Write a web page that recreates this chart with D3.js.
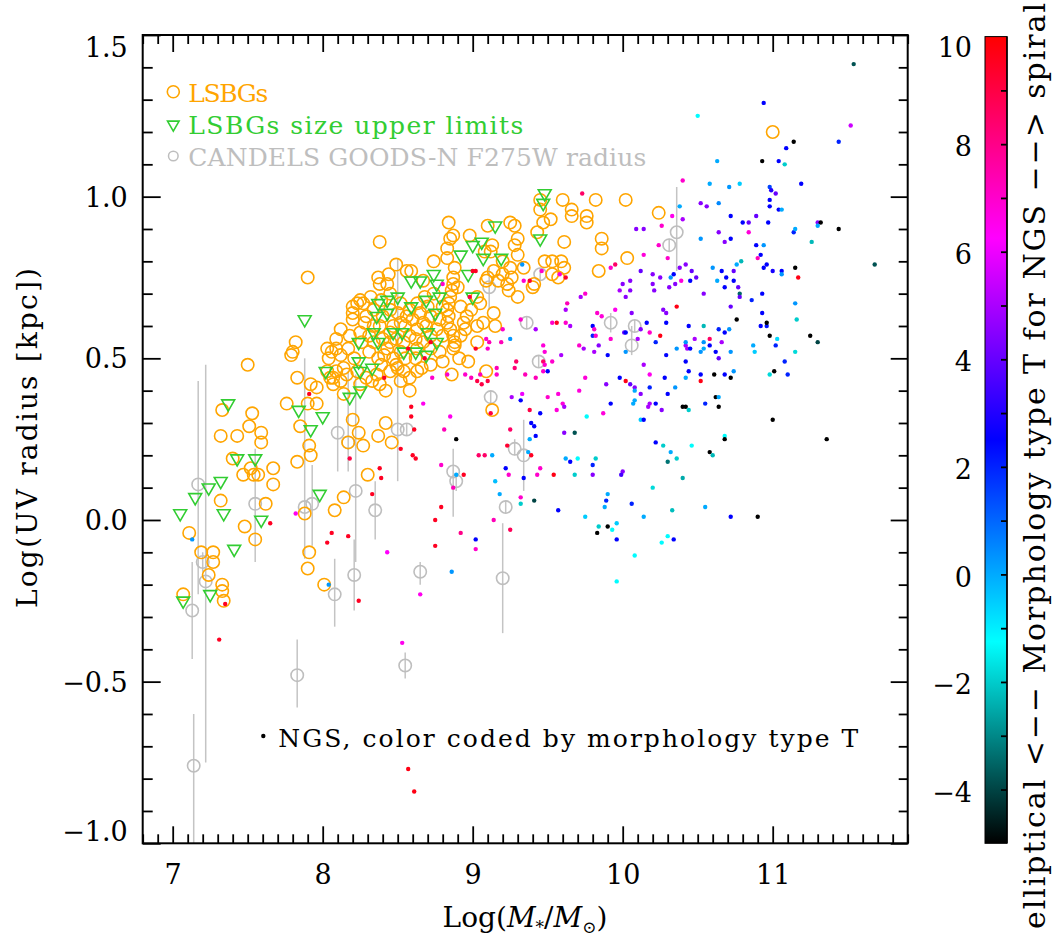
<!DOCTYPE html>
<html>
<head>
<meta charset="utf-8">
<script src="https://cdn.jsdelivr.net/npm/d3@7"></script>
<style>
  body { margin: 0; background: #fff; }
  svg { display: block; }
  text { font-family: "DejaVu Serif", serif; }
</style>
</head>
<body>
<svg id="chart" width="1053" height="937"></svg>
<script>
// ---- data: log stellar mass vs log UV radius ----
// LSBGs with measured sizes [logM, logR]
const lsbg = [
  [9.45,0.99],[9.45,0.96],[9.60,0.99],[9.66,0.96],[9.82,0.99],[10.02,0.99],[8.84,0.92],[9.25,0.92],[9.10,0.91],[9.47,0.92],
  [9.52,0.93],[9.66,0.94],[9.76,0.94],[9.76,0.92],[10.24,0.95],[11.00,1.20],[9.28,0.91],[9.30,0.87],[9.28,0.85],[9.30,0.82],
  [9.20,0.80],[9.25,0.78],[9.34,0.78],[9.26,0.75],[9.23,0.73],[9.30,0.69],[9.41,0.73],[9.40,0.72],[9.43,0.89],[9.61,0.86],
  [9.86,0.87],[9.86,0.84],[10.03,0.81],[9.84,0.77],[9.48,0.80],[9.53,0.80],[9.59,0.80],[9.61,0.78],[9.53,0.76],[9.57,0.75],
  [9.08,0.83],[9.13,0.85],[8.98,0.88],[8.87,0.88],[8.85,0.87],[8.83,0.84],[8.74,0.80],[8.38,0.86],[7.90,0.75],[8.49,0.79],
  [8.56,0.77],[8.59,0.77],[8.37,0.75],[8.44,0.76],[8.38,0.73],[8.43,0.73],[8.25,0.68],[8.20,0.66],[8.12,0.59],[8.20,0.62],
  [8.09,0.56],[8.03,0.53],[8.06,0.52],[8.12,0.51],[8.04,0.50],[7.82,0.55],[7.80,0.52],[7.79,0.51],[7.50,0.48],[7.76,0.36],
  [7.33,0.34],[7.32,0.26],[7.43,0.26],[7.53,0.33],[7.51,0.29],[7.59,0.27],[7.59,0.24],[7.40,0.19],[7.67,0.16],[7.83,0.18],
  [7.91,0.23],[7.92,0.20],[7.85,0.29],[7.90,0.36],[7.96,0.36],[7.96,0.41],[8.07,0.44],[8.12,0.43],[8.14,0.39],[8.20,0.31],
  [8.24,0.27],[8.17,0.24],[8.27,0.23],[8.37,0.26],[8.42,0.30],[8.46,0.24],[8.38,0.42],[8.52,0.43],[8.58,0.40],[8.25,0.42],
  [8.97,0.49],[9.09,0.46],[9.13,0.34],[8.86,0.45],[8.88,0.54],[8.88,0.55],[9.03,0.55],[9.07,0.61],[9.15,0.60],[9.14,0.64],
  [9.09,0.74],[8.83,0.81],[8.88,0.78],[8.87,0.75],[8.87,0.73],[8.86,0.71],[8.85,0.69],[8.84,0.67],[8.83,0.65],[8.84,0.63],
  [8.83,0.61],[8.85,0.59],[8.87,0.57],[8.87,0.53],[9.12,0.83],[9.14,0.77],[9.10,0.75],[9.20,0.76],[9.17,0.74],[9.24,0.71],
  [9.03,0.69],[9.05,0.67],[8.99,0.65],[8.96,0.63],[8.94,0.61],[8.95,0.59],[8.92,0.57],[8.76,0.59],[8.72,0.57],[8.67,0.55],
  [8.72,0.53],[8.63,0.53],[8.62,0.50],[8.68,0.69],[8.63,0.67],[8.58,0.65],[8.56,0.63],[8.52,0.61],[8.47,0.60],[8.45,0.58],
  [8.40,0.56],[8.67,0.74],[8.32,0.69],[8.23,0.67],[8.27,0.67],[8.20,0.64],[8.29,0.63],[8.34,0.60],[8.28,0.61],[8.25,0.58],
  [8.18,0.57],[8.17,0.53],[8.09,0.53],[8.34,0.55],[8.37,0.50],[8.39,0.48],[8.36,0.45],[8.45,0.46],[8.49,0.48],[8.54,0.46],
  [8.58,0.44],[8.63,0.46],[8.43,0.53],[8.45,0.55],[8.49,0.56],[8.54,0.55],[8.52,0.52],[8.47,0.50],[8.29,0.44],[8.23,0.46],
  [8.16,0.45],[8.07,0.42],[7.92,0.42],[7.83,0.44],[8.09,0.46],[8.03,0.46],[8.05,0.44],[9.03,0.60],[8.72,0.63],[8.67,0.61],
  [8.63,0.59],[8.58,0.57],[8.52,0.67],[8.45,0.65],[8.40,0.63],
  [8.34,0.65],[8.39,0.68],[8.45,0.70],[8.50,0.64],[8.55,0.60],[8.60,0.62],[8.65,0.64],[8.70,0.66],[8.74,0.70],[8.78,0.62],
  [8.80,0.57],[8.78,0.52],[8.72,0.48],[8.66,0.47],[8.55,0.50],[8.41,0.51],[8.31,0.52],[8.26,0.55],[8.31,0.57],[8.38,0.60],
  [8.62,0.56],[8.69,0.60],[8.80,0.66],[8.90,0.72],[8.92,0.66],[8.91,0.50],[8.80,0.49],[8.50,0.47],[8.33,0.43],[8.42,0.40],
  [8.21,0.50],[8.14,0.47],
  [7.47,0.14],[7.52,0.16],[7.54,0.14],[7.57,0.14],[7.67,0.11],[8.30,0.14],[7.62,0.05],[7.32,0.06],[7.48,-0.02],[7.55,-0.06],
  [7.11,-0.04],[7.19,-0.10],[7.27,-0.10],[7.27,-0.13],[7.24,-0.17],[7.33,-0.20],[7.33,-0.22],[7.34,-0.25],[7.07,-0.23],[7.88,0.02],
  [7.91,-0.10],[7.90,-0.15],[8.01,-0.20],[8.08,0.03],[8.14,0.07]
];

// LSBGs with size upper limits [logM, logR]
const lsbgLimits = [
  [9.48,1.01],[9.47,0.98],[9.45,0.87],[9.19,0.81],[9.15,0.91],[9.00,0.85],[9.06,0.86],[9.07,0.81],[8.92,0.82],[8.74,0.76],
  [8.76,0.73],[8.59,0.74],[8.65,0.74],[8.97,0.76],[9.00,0.69],[8.78,0.69],[8.75,0.64],[8.69,0.68],[8.50,0.69],[8.43,0.68],
  [8.37,0.67],[8.43,0.64],[8.36,0.63],[8.59,0.66],[7.88,0.62],[8.34,0.58],[8.37,0.55],[8.24,0.55],[8.47,0.58],[8.53,0.58],
  [8.70,0.58],[8.76,0.55],[8.54,0.52],[8.62,0.52],[8.69,0.51],[8.24,0.49],[8.25,0.46],[8.33,0.47],[8.02,0.46],[8.18,0.38],
  [8.25,0.40],[7.84,0.34],[7.92,0.28],[8.00,0.32],[7.37,0.36],[7.43,0.19],[7.55,0.19],[7.05,0.02],[7.15,0.07],[7.24,0.10],
  [7.32,0.12],[7.34,0.02],[7.59,0.00],[7.41,-0.09],[7.07,-0.25],[7.25,-0.23],[7.98,0.08]
];

// CANDELS GOODS-N F275W sizes [logM, logR, lower, upper]
const candels = [
  [7.17,0.11,-0.23,0.43],[7.20,-0.13,-0.16,-0.10],[7.22,-0.19,-0.75,0.48],[7.13,-0.28,-0.43,-0.13],[7.14,-0.76,-1.10,-0.60],
  [7.55,0.05,-0.13,0.22],[7.88,0.04,-0.12,0.50],[7.93,0.05,-0.08,0.17],[7.83,-0.48,-0.58,-0.37],[8.08,-0.23,-0.33,-0.12],
  [8.21,-0.17,-0.28,-0.06],[8.22,0.09,-0.13,0.45],[8.35,0.03,-0.06,0.12],[8.55,-0.45,-0.49,-0.41],[8.65,-0.16,-0.20,-0.13],
  [8.87,0.15,0.01,0.22],[8.89,0.12,0.09,0.14],[9.22,0.04,0.02,0.06],[9.20,-0.18,-0.35,-0.01],[9.28,0.22,0.20,0.25],
  [9.34,0.20,0.09,0.31],[8.50,0.28,0.12,0.81],[8.56,0.28,0.26,0.30],[8.10,0.27,0.15,0.38],[8.17,0.24,0.15,0.46],
  [9.12,0.38,0.36,0.40],[9.11,0.72,0.65,0.78],[9.36,0.61,0.59,0.63],[9.44,0.49,0.47,0.51],[9.45,0.76,0.74,0.78],
  [10.36,0.89,0.77,1.03],[10.31,0.85,0.83,0.87],[9.92,0.61,0.58,0.64],[10.08,0.60,0.58,0.62],[10.06,0.54,0.51,0.60]
];

// NGS galaxies [logM, logR, morphology type T]
const ngs = [
  [11.54,1.41,-3.8],[10.94,1.29,2.5],[10.50,1.25,-1.2],[11.52,1.22,5.5],[11.14,1.17,-5],[11.44,1.17,2],[11.09,1.15,2.5],[10.93,1.11,-5],
  [11.04,1.11,2.5],[10.63,1.11,0],[11.08,1.10,-2],[11.19,1.04,2.5],[10.58,1.04,0],[10.71,1.03,0.3],[10.78,1.04,-0.5],[10.40,1.05,7],
  [10.98,1.03,1.5],[10.99,1.02,3],[11.02,1.01,4],[10.98,0.99,2.5],[10.98,0.97,2.5],[11.04,0.96,2.5],[11.06,0.96,0],[10.52,0.98,4.5],
  [10.56,0.97,4.5],[10.64,0.98,0.5],[10.38,0.97,0],[10.40,0.93,5],[10.33,0.94,6.5],[10.72,0.94,2.5],[10.80,0.92,2.5],[10.84,0.92,4],
  [10.89,0.94,4],[10.97,0.92,2.5],[11.30,0.92,4.5],[11.32,0.92,-5],[11.44,0.90,-5],[11.30,0.91,0],[11.14,0.89,2],[11.15,0.90,0],
  [11.26,0.86,-2.3],[11.68,0.79,-3.8],[10.09,0.90,4.5],[10.14,0.90,4.5],[10.26,0.91,7],[10.84,0.89,6.8],[10.64,0.89,4.5],[10.52,0.87,0.3],
  [10.68,0.86,4.5],[10.72,0.87,2.5],[10.24,0.85,7],[10.30,0.81,7],[10.14,0.82,6.8],[10.89,0.85,2.5],[10.94,0.85,0.3],[10.92,0.82,2.5],
  [10.90,0.81,7.3],[10.79,0.80,-2.3],[10.76,0.79,0],[10.96,0.79,2.5],[10.94,0.78,2.5],[11.06,0.77,2.5],[11.06,0.76,0.3],[11.00,0.77,2.8],
  [11.15,0.78,-5],[11.17,0.75,9.7],[10.60,0.78,0.3],[10.66,0.77,2.5],[10.69,0.75,2.5],[10.74,0.74,2.5],[10.74,0.77,4],[10.63,0.74,0],
  [10.38,0.78,4.5],[10.42,0.79,4.5],[10.46,0.77,4],[10.49,0.75,4],[10.45,0.74,2.5],[10.34,0.76,2.5],[10.32,0.75,0.3],[10.39,0.74,6.8],
  [10.35,0.73,4.5],[10.31,0.72,4.5],[10.12,0.77,4],[10.20,0.76,4.5],[10.25,0.75,4.5],[10.05,0.74,4.5],[10.00,0.73,4.5],[10.20,0.73,4.5],
  [10.21,0.71,4.5],[10.05,0.71,4.5],[10.02,0.69,4.5],[9.98,0.71,5],[9.92,0.78,7],[9.95,0.79,8.5],[10.77,0.72,4],[10.78,0.70,-3.5],
  [10.78,0.69,4],[10.68,0.72,2.5],[10.54,0.70,4.5],[10.86,0.68,2],[10.93,0.70,2.5],[11.15,0.67,0.3],[10.72,0.66,4],[10.36,0.66,9.7],
  [10.27,0.65,4.5],[10.29,0.64,4.5],[10.06,0.64,4.5],[9.75,0.70,7],[9.72,0.69,5],[9.63,0.67,7.3],[9.62,0.65,5],[9.95,0.65,6.5],
  [9.83,0.64,7],[9.86,0.63,6.8],[10.76,0.62,-5],[10.93,0.64,2.5],[11.16,0.62,-2],[9.53,0.61,7],[9.56,0.61,9.5],[9.62,0.61,7],
  [9.65,0.60,5],[9.32,0.62,7],[9.38,0.74,9.3],[9.34,0.74,7],[9.62,0.75,9.3],[9.58,0.76,6.8],[9.46,0.77,7],[9.33,0.79,0.3],
  [9.73,1.01,8.5],[10.54,0.60,-2.3],[10.44,0.60,2.5],[10.16,0.61,2.5],[10.64,0.59,2],[10.71,0.59,0.3],[9.80,0.60,2.5],[10.92,0.60,2.5],
  [10.96,0.60,2.2],[10.96,0.61,-5],[10.29,0.61,2.5],[9.81,0.59,7],[10.12,0.59,4.5],
  [9.20,0.59,7],[9.19,0.55,7.3],[9.25,0.56,0.3],[9.42,0.59,5],[9.47,0.54,6.8],[9.48,0.52,6.8],[9.47,0.49,8.5],[9.48,0.48,7],
  [9.47,0.46,7],[9.50,0.46,2.5],[9.53,0.49,7],[9.59,0.51,5],[9.29,0.49,8.5],[9.28,0.47,8.3],[9.35,0.45,7.3],[9.42,0.44,7.3],
  [9.71,0.54,7],[9.74,0.53,5],[9.84,0.54,4.5],[9.81,0.52,5],[9.90,0.51,2.5],[9.92,0.56,7],[9.80,0.57,2],[9.82,0.57,7],
  [10.01,0.58,4],[10.02,0.58,2.5],[10.10,0.56,5],[10.02,0.52,0.3],[10.18,0.58,7],[10.25,0.57,9.7],[10.22,0.55,2],[10.36,0.53,0.3],
  [10.42,0.54,5],[10.43,0.53,5],[10.45,0.53,2.5],[10.48,0.56,5],[10.42,0.55,0.3],[10.54,0.55,0.3],[10.54,0.53,0],[10.52,0.52,0.3],
  [10.58,0.56,8.5],[10.58,0.54,2.5],[10.66,0.55,5],[10.62,0.52,2.5],[10.64,0.50,4],[10.72,0.52,0.3],[10.68,0.58,2.5],
  [10.29,0.51,2.5],[10.42,0.49,2.5],[10.44,0.46,2.5],[10.52,0.45,2.5],[10.52,0.43,9.7],[10.42,0.44,0],[10.61,0.45,-5],[10.68,0.45,2.5],
  [10.72,0.44,-5],[10.74,0.46,0.3],[10.28,0.44,2.5],[10.18,0.45,6.5],[10.14,0.48,5],[9.98,0.44,2.5],[10.02,0.43,9.7],[10.05,0.42,4],
  [10.08,0.41,4.5],[10.18,0.41,2],[10.35,0.41,0.3],[10.30,0.39,2.5],[9.89,0.42,4.5],[9.75,0.44,6.8],[9.71,0.40,6.8],[9.57,0.39,6.8],
  [9.50,0.38,7],[9.60,0.36,6.8],[9.56,0.34,6.8],[9.61,0.35,5],[9.26,0.38,5],[9.33,0.39,6],[9.32,0.37,2.5],[9.38,0.34,9],
  [9.45,0.33,2.5],[10.08,0.40,0],[10.12,0.39,4.5],[10.08,0.37,0],[10.07,0.36,0],[10.17,0.35,5],[10.18,0.36,5],[10.22,0.36,2.5],
  [10.26,0.34,4.5],[9.92,0.36,2.5],[9.87,0.33,6.8],[9.76,0.32,-1.3],[10.12,0.31,-0.5],[10.14,0.31,2.5],[10.40,0.35,-5],[10.42,0.35,-5],
  [10.44,0.34,-2],[10.55,0.36,2],[10.62,0.38,-5],[10.64,0.38,0],[10.64,0.35,-5],
  [10.87,0.54,0],[10.88,0.52,-0.5],[10.98,0.57,-5],[11.03,0.56,-0.7],[11.02,0.54,2],[11.25,0.57,-5],[11.30,0.55,-4],[11.15,0.52,-1.8],
  [11.08,0.49,2],[11.01,0.46,-5],[10.98,0.45,-1.8],[11.10,0.45,2],[11.00,0.31,-5],[11.36,0.25,-5],[10.68,0.26,-1.3],[10.68,0.25,-5],
  [10.58,0.21,-5],[10.60,0.20,-2.3],[10.46,0.23,-1.3],[10.27,0.23,-2],[10.32,0.21,0],[10.36,0.19,-2],[10.30,0.18,-3.3],[10.40,0.13,-2.5],
  [10.20,0.10,-1.8],[10.22,0.24,2.5],[9.68,0.27,-3.8],[9.61,0.27,4.5],[9.62,0.19,0],[9.65,0.18,2.5],[9.70,0.19,-1.2],[9.68,0.14,-2],
  [9.82,0.19,-2],[9.80,0.17,2],[9.80,0.14,4.5],[10.00,0.15,4.5],[9.99,0.14,3.5],
  [9.39,0.30,2.5],[9.41,0.29,2.5],[9.38,0.25,0],[9.42,0.26,2.5],[9.25,0.28,8.5],[9.23,0.23,9.3],[9.37,0.21,0],[9.39,0.20,9.5],
  [9.22,0.16,2.5],[9.24,0.14,7],[9.45,0.16,7],[9.43,0.14,7],[9.34,0.13,2.5],[9.54,0.14,9.7],[9.18,0.08,0],[9.32,0.07,7],
  [9.32,0.05,-2],[9.41,0.06,-4],[9.57,0.03,2.5],[9.90,0.08,0],[9.89,0.06,2],[9.88,0.04,0],[9.75,0.01,-0.5],[10.06,0.05,2],
  [10.14,0.01,0],[10.33,0.03,-2.2],[10.55,0.04,0],[10.72,0.01,2.5],[10.90,0.01,-5],[9.84,-0.02,-2],[9.83,-0.04,-5],[9.90,-0.02,-5],
  [9.93,-0.03,-1.3],[9.96,-0.01,-0.5],[9.96,-0.06,2.5],[10.30,-0.05,-1.2],[10.26,-0.07,-1.2],[10.34,-0.06,2.5],[10.08,-0.11,-1.2],[9.96,-0.19,-1.2],
  [9.25,-0.03,8.7],
  [9.00,0.77,9.5],[9.02,0.77,9.5],[8.80,0.73,7],[8.98,0.69,9],[9.09,0.56,7],[9.11,0.55,7.3],[9.10,0.53,7],[9.02,0.53,9.5],
  [8.57,0.53,9.5],[8.72,0.55,9.5],[8.68,0.50,9.3],[9.16,0.47,7.3],[9.16,0.45,7],[8.95,0.45,7],[8.99,0.44,7.3],[9.05,0.45,7.3],
  [9.03,0.43,9],[9.06,0.42,9],[9.10,0.43,9],[8.83,0.45,7],[8.73,0.44,7],[8.41,0.44,9.5],[7.91,0.39,9.5],[8.67,0.36,6.5],
  [8.59,0.35,9.5],[8.59,0.32,9.5],[8.61,0.28,9.5],[8.85,0.32,6.5],[8.81,0.28,7.3],[9.12,0.33,9],[8.89,0.25,-5],[8.52,0.22,9.5],
  [8.60,0.20,9.5],[8.62,0.19,9.5],[8.18,0.19,9],[8.38,0.16,9.5],[8.79,0.17,7],[9.04,0.20,8.5],[9.08,0.20,8.5],[9.13,0.20,0],
  [8.39,0.13,9.5],[8.33,0.08,9.5],[8.89,0.14,0],[8.94,0.14,9.5],[8.87,0.10,7.3],[8.79,0.04,9.5],[8.75,0.00,9.5],[8.75,-0.08,9.5],
  [8.92,-0.04,8],[8.86,-0.16,0.3],[8.65,-0.23,6.5],[8.43,-0.10,6.3],[8.53,-0.38,6.5],[8.57,-0.77,9.7],[8.61,-0.84,9.7],[7.65,-0.01,9.5],
  [8.06,-0.04,9.5],[8.03,-0.07,9.5],[8.17,-0.05,9.5],[8.24,-0.25,9.5],[8.04,-0.20,0.3],[7.82,0.02,6.5],[7.13,-0.06,0.3],[7.35,-0.26,9.5],
  [7.31,-0.37,9.5],[9.02,-0.06,2.5],[9.02,-0.09,7],[9.14,0.00,7.3],[9.15,0.12,-0.3]
];

// axis ticks and labels
const xTicks = [7, 8, 9, 10, 11];
const yTicks = [-1.0, -0.5, 0.0, 0.5, 1.0, 1.5];
const cbTicks = [-4, -2, 0, 2, 4, 6, 8, 10];
// colour table for morphology type T
const tStops = [-5, -1.25, 2.5, 6.25, 10];
const tColors = ["#000000", "#00ffff", "#0000ff", "#ff00ff", "#ff0000"];

const legendItems = ["LSBGs", "LSBGs size upper limits", "CANDELS GOODS-N F275W radius"];
const ngsNote = "NGS, color coded by morphology type T";

// ---- layout ----
const P = { l: 142.7, r: 907.7, t: 35, b: 843.3 };
const ORANGE = "#ffa500", GREEN = "#32cd32", GREY = "#bebebe";

const svg = d3.select("#chart");
const x = d3.scaleLinear().domain([6.8, 11.9]).range([P.l, P.r]);
const y = d3.scaleLinear().domain([-1.0, 1.5]).range([P.b, P.t]);
const tColor = d3.scaleLinear().domain(tStops).range(tColors).clamp(true);

svg.append("rect").attr("width", 1053).attr("height", 937).attr("fill", "#fff");

const defs = svg.append("defs");
defs.append("clipPath").attr("id", "plotClip")
  .append("rect").attr("x", P.l).attr("y", P.t).attr("width", P.r - P.l).attr("height", P.b - P.t);

const data = svg.append("g").attr("clip-path", "url(#plotClip)");

// CANDELS error bars and circles
data.append("g").selectAll("line").data(candels).join("line")
  .attr("x1", d => x(d[0])).attr("x2", d => x(d[0]))
  .attr("y1", d => y(d[2])).attr("y2", d => y(d[3]))
  .attr("stroke", "#c4c4c4").attr("stroke-width", 1.5);
data.append("g").selectAll("circle").data(candels).join("circle")
  .attr("cx", d => x(d[0])).attr("cy", d => y(d[1])).attr("r", 6.2)
  .attr("fill", "none").attr("stroke", GREY).attr("stroke-width", 1.6);

// LSBG circles
data.append("g").selectAll("circle").data(lsbg).join("circle")
  .attr("cx", d => x(d[0])).attr("cy", d => y(d[1])).attr("r", 6.2)
  .attr("fill", "none").attr("stroke", ORANGE).attr("stroke-width", 1.6);

// upper-limit triangles (pointing down)
const tri = d3.symbol().type(d3.symbolTriangle).size(72);
data.append("g").selectAll("path").data(lsbgLimits).join("path")
  .attr("d", tri)
  .attr("transform", d => `translate(${x(d[0])},${y(d[1])}) rotate(180)`)
  .attr("fill", "none").attr("stroke", GREEN).attr("stroke-width", 1.6);

// NGS dots coloured by T
data.append("g").selectAll("circle").data(ngs).join("circle")
  .attr("cx", d => x(d[0])).attr("cy", d => y(d[1])).attr("r", 2.2)
  .attr("fill", d => tColor(d[2]));

// ---- axes (ticks pointing inward on all four sides) ----
const xMinor = d3.range(68, 120).filter(v => v % 10 !== 0).map(v => v / 10);
const yMinor = d3.range(-10, 16).filter(v => v % 5 !== 0).map(v => v / 10);
const MAJ = 17, MIN = 9;

function tidy(g) {
  g.select(".domain").remove();
  g.selectAll("line").attr("stroke", "#000").attr("stroke-width", 1.8);
  g.attr("font-family", "DejaVu Serif").attr("font-size", 27);
  g.selectAll("text").attr("fill", "#000");
}

svg.append("g").attr("transform", `translate(0,${P.b})`)
  .call(d3.axisBottom(x).tickValues(xTicks).tickSize(-MAJ).tickPadding(22).tickFormat(d3.format("d"))).call(tidy);
svg.append("g").attr("transform", `translate(0,${P.b})`)
  .call(d3.axisBottom(x).tickValues(xMinor).tickSize(-MIN).tickFormat("")).call(tidy);
svg.append("g").attr("transform", `translate(0,${P.t})`)
  .call(d3.axisTop(x).tickValues(xTicks).tickSize(-MAJ).tickFormat("")).call(tidy);
svg.append("g").attr("transform", `translate(0,${P.t})`)
  .call(d3.axisTop(x).tickValues(xMinor).tickSize(-MIN).tickFormat("")).call(tidy);

const yAxis = svg.append("g").attr("transform", `translate(${P.l},0)`)
  .call(d3.axisLeft(y).tickValues(yTicks).tickSize(-MAJ - 1).tickPadding(15).tickFormat(d3.format(".1f"))).call(tidy);
// keep the end labels inside the frame height
yAxis.selectAll("text").attr("y", d => d === 1.5 ? 13 : (d === -1.0 ? -11 : 1));
svg.append("g").attr("transform", `translate(${P.l},0)`)
  .call(d3.axisLeft(y).tickValues(yMinor).tickSize(-MIN - 1).tickFormat("")).call(tidy);
svg.append("g").attr("transform", `translate(${P.r},0)`)
  .call(d3.axisRight(y).tickValues(yTicks).tickSize(-MAJ).tickFormat("")).call(tidy);
svg.append("g").attr("transform", `translate(${P.r},0)`)
  .call(d3.axisRight(y).tickValues(yMinor).tickSize(-MIN).tickFormat("")).call(tidy);

// frame
svg.append("rect").attr("x", P.l).attr("y", P.t).attr("width", P.r - P.l).attr("height", P.b - P.t)
  .attr("fill", "none").attr("stroke", "#000").attr("stroke-width", 2);

// axis titles
svg.append("text").attr("transform", "translate(37,438) rotate(-90)")
  .attr("text-anchor", "middle").attr("font-size", 28).attr("textLength", 340).attr("lengthAdjust", "spacing")
  .text("Log(UV radius [kpc])");

const xt = svg.append("text").attr("x", 525).attr("y", 927).attr("text-anchor", "middle").attr("font-size", 28);
xt.append("tspan").text("Log(");
xt.append("tspan").attr("font-style", "italic").text("M");
xt.append("tspan").attr("font-size", 17).attr("dy", 6).text("*");
xt.append("tspan").attr("dy", -6).text("/");
xt.append("tspan").attr("font-style", "italic").text("M");
xt.append("tspan").attr("font-size", 17).attr("dy", 6).text("\u2299");
xt.append("tspan").attr("dy", -6).text(")");

// ---- legend ----
const lg = svg.append("g");
lg.append("circle").attr("cx", 173.3).attr("cy", 91.7).attr("r", 6).attr("fill", "none")
  .attr("stroke", ORANGE).attr("stroke-width", 1.6);
lg.append("path").attr("d", d3.symbol().type(d3.symbolTriangle).size(58))
  .attr("transform", "translate(173.3,124.5) rotate(180)")
  .attr("fill", "none").attr("stroke", GREEN).attr("stroke-width", 1.6);
lg.append("circle").attr("cx", 173.3).attr("cy", 156).attr("r", 4.8).attr("fill", "none")
  .attr("stroke", GREY).attr("stroke-width", 1.5);
const legendRows = [
  { t: legendItems[0], c: ORANGE, y: 101.7, w: 80 },
  { t: legendItems[1], c: GREEN, y: 134, w: 335 },
  { t: legendItems[2], c: GREY, y: 166, w: 458 }
];
lg.selectAll("text").data(legendRows).join("text")
  .attr("x", 188.3).attr("y", d => d.y).attr("font-size", 25).attr("fill", d => d.c)
  .attr("textLength", d => d.w).attr("lengthAdjust", "spacing").text(d => d.t);

svg.append("circle").attr("cx", 263.3).attr("cy", 736).attr("r", 2.2).attr("fill", "#000");
svg.append("text").attr("x", 278.3).attr("y", 746.7).attr("font-size", 25)
  .attr("textLength", 580).attr("lengthAdjust", "spacing").text(ngsNote);

// ---- colour bar ----
const CB = { l: 985, r: 1007, t: 36.6, b: 843.3 };
const cb = d3.scaleLinear().domain([-5, 10]).range([CB.b, CB.t]);
const grad = defs.append("linearGradient").attr("id", "tGrad")
  .attr("x1", 0).attr("y1", 0).attr("x2", 0).attr("y2", 1);
d3.range(0, 61).forEach(i => {
  const f = i / 60;
  grad.append("stop").attr("offset", f).attr("stop-color", tColor(10 - f * 15));
});
svg.append("rect").attr("x", CB.l).attr("y", CB.t).attr("width", CB.r - CB.l).attr("height", CB.b - CB.t)
  .attr("fill", "url(#tGrad)").attr("stroke", "#000").attr("stroke-width", 1);
svg.append("line").attr("x1", CB.r).attr("x2", CB.r).attr("y1", CB.t).attr("y2", CB.b)
  .attr("stroke", "#000").attr("stroke-width", 1.5);
svg.append("g").attr("transform", `translate(${CB.r},0)`)
  .call(d3.axisRight(cb).tickValues(d3.range(-4, 10)).tickSize(-6).tickFormat("")).call(tidy);
const cbAxis = svg.append("g").attr("transform", `translate(${CB.l},0)`)
  .call(d3.axisLeft(cb).tickValues(cbTicks).tickSize(0).tickPadding(13).tickFormat(d3.format("d"))).call(tidy);
cbAxis.selectAll("text").attr("y", d => d === 10 ? 11 : 3);

svg.append("text").attr("transform", "translate(1045,466) rotate(-90)")
  .attr("text-anchor", "middle").attr("font-size", 30).attr("textLength", 926).attr("lengthAdjust", "spacing")
  .text("elliptical <\u2212\u2212 Morphology type T for NGS \u2212\u2212> spiral");
</script>
</body>
</html>
